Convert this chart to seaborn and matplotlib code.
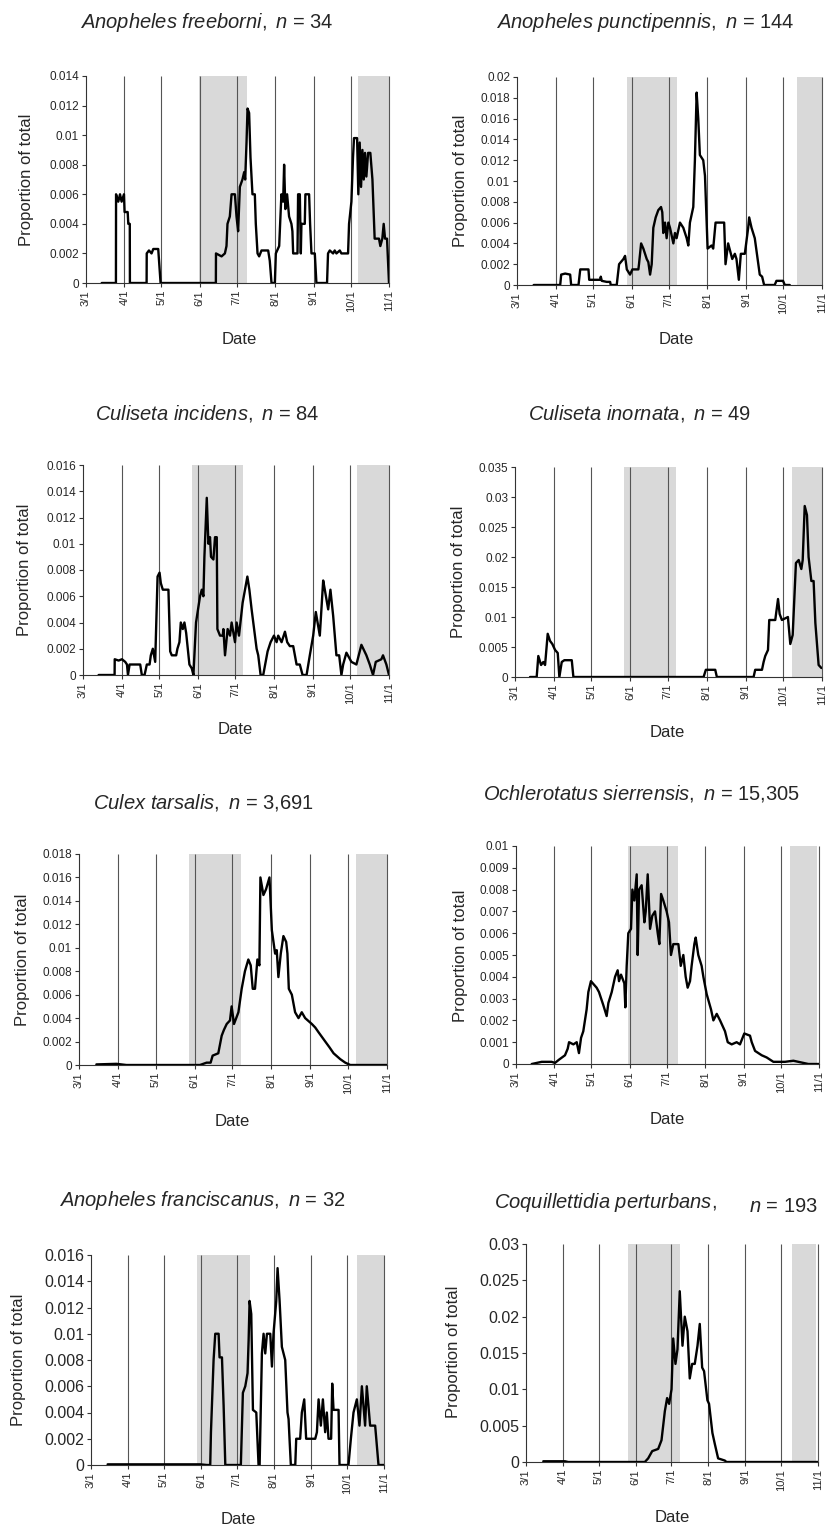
import numpy as np
import pandas as pd
import matplotlib
matplotlib.use("Agg")
import matplotlib.pyplot as plt
import seaborn as sns

# ---------------- data (days since 3/1, proportion of total) ----------------
month_labels = ["3/1", "4/1", "5/1", "6/1", "7/1", "8/1", "9/1", "10/1", "11/1"]
month_days = [0, 31, 61, 92, 122, 153, 184, 214, 245]

freeborni_day = [12.7, 24.2, 24.3, 26.1, 27.5, 28.8, 30.7, 31.2, 33.7, 34.2, 35.4, 35.5, 49.0, 49.1, 50.9, 53.0, 54.4, 58.4, 60.3,
                 105.0, 105.1, 109.6, 112.3, 113.6, 114.4, 116.3, 117.7, 120.4, 121.7, 123.0, 124.4, 126.5, 127.9, 128.7, 129.8,
                 130.6, 131.9, 133.0, 134.6, 136.5, 137.3, 138.7, 140.0, 141.9, 147.3, 148.6, 150.0, 152.7, 153.5, 156.2, 158.0,
                 159.4, 160.2, 161.2, 162.6, 164.2, 166.1, 166.9, 167.5, 171.0, 171.5, 172.9, 173.7, 174.2, 176.9, 177.4, 180.4,
                 181.2, 182.3, 185.0, 186.3, 194.9, 195.7, 197.1, 199.8, 201.1, 202.5, 205.2, 206.5, 211.9, 212.7, 214.6, 215.9,
                 216.7, 219.2, 220.2, 221.3, 222.4, 223.5, 224.6, 225.6, 226.7, 228.1, 229.9, 231.6, 233.4, 236.9, 238.0, 239.6,
                 240.7, 241.8, 243.4, 245.0]
freeborni_val = [0, 0, 0.006, 0.0055, 0.006, 0.0055, 0.006, 0.0048, 0.0048, 0.004, 0.004, 0, 0, 0.002, 0.0022, 0.002, 0.0023, 0.0023, 0,
                 0, 0.002, 0.0018, 0.002, 0.0025, 0.004, 0.0045, 0.006, 0.006, 0.0045, 0.0035, 0.0065, 0.007, 0.0075, 0.007, 0.0095,
                 0.0118, 0.0115, 0.0085, 0.006, 0.006, 0.004, 0.002, 0.0018, 0.0022, 0.0022, 0.0015, 0, 0, 0.002, 0.0025, 0.006,
                 0.0055, 0.008, 0.005, 0.006, 0.0045, 0.004, 0.0035, 0.002, 0.002, 0.006, 0.006, 0.002, 0.004, 0.004, 0.006, 0.006,
                 0.004, 0.002, 0.002, 0, 0, 0.002, 0.0022, 0.002, 0.0022, 0.002, 0.0022, 0.002, 0.002, 0.004, 0.0055, 0.0085,
                 0.0098, 0.0098, 0.006, 0.0095, 0.0065, 0.009, 0.007, 0.0088, 0.0072, 0.0088, 0.0088, 0.007, 0.003, 0.003, 0.0025, 0.003,
                 0.004, 0.003, 0.003, 0]

punctipennis_day = [13.4, 34.7, 35.5, 38.7, 42.7, 43.5, 49.4, 50.8, 57.4, 58.0, 66.8, 67.3, 68.1, 72.1, 74.8, 75.3, 80.1, 82.0, 85.5,
                    86.8, 88.2, 90.8, 92.7, 97.5, 98.0, 99.7, 101.5, 104.2, 105.5, 106.9, 108.2, 109.5, 111.4, 113.5, 115.7, 116.7,
                    117.5, 118.9, 120.2, 121.6, 122.9, 125.6, 126.9, 128.2, 130.9, 133.6, 136.3, 137.6, 138.9, 141.6, 142.9, 144.3,
                    145.6, 146.9, 149.6, 151.0, 153.1, 156.3, 157.6, 159.5, 166.4, 167.5, 169.6, 172.9, 175.0, 176.3, 178.2, 179.8,
                    183.0, 185.7, 186.5, 188.4, 191.0, 195.0, 196.9, 198.5, 207.0, 208.4, 213.7, 215.1, 219.1]
punctipennis_val = [0, 0, 0.001, 0.0011, 0.001, 0, 0, 0.0015, 0.0015, 0.0005, 0.0005, 0.0008, 0.0004, 0.0003, 0.0003, 0, 0, 0.002, 0.0025,
                    0.0028, 0.0015, 0.001, 0.0015, 0.0015, 0.002, 0.004, 0.0035, 0.0025, 0.0022, 0.001, 0.002, 0.0055, 0.0065, 0.0072,
                    0.0075, 0.007, 0.005, 0.006, 0.0045, 0.006, 0.0055, 0.004, 0.005, 0.0045, 0.006, 0.0055, 0.0045, 0.0038, 0.006,
                    0.0075, 0.012, 0.0185, 0.016, 0.0125, 0.012, 0.0105, 0.0035, 0.0038, 0.0035, 0.006, 0.006, 0.002, 0.004, 0.0025,
                    0.003, 0.0025, 0.0005, 0.003, 0.003, 0.0055, 0.0065, 0.0055, 0.0045, 0.001, 0.0008, 0, 0, 0.0004, 0.0004, 0, 0]

incidens_day = [12.5, 25.3, 25.4, 28.5, 31.2, 33.8, 35.2, 36.0, 37.3, 45.8, 47.1, 49.3, 51.1, 53.3, 54.3, 55.9, 57.8, 59.7, 61.3, 62.3,
                63.9, 68.4, 69.8, 71.1, 74.6, 75.6, 77.2, 78.3, 79.9, 81.2, 82.6, 85.2, 87.1, 88.4, 90.5, 93.7, 95.1, 96.4, 97.2,
                99.1, 100.4, 101.7, 102.5, 104.4, 105.7, 107.1, 107.6, 109.7, 111.9, 112.4, 113.7, 115.8, 117.7, 119.0, 121.7,
                123.0, 124.9, 127.8, 129.7, 131.6, 133.2, 135.0, 139.0, 140.3, 142.2, 144.3, 147.8, 150.2, 152.9, 155.0, 156.3,
                159.0, 161.7, 163.5, 165.6, 168.3, 171.0, 173.6, 175.8, 179.0, 181.6, 184.3, 186.4, 189.6, 192.3, 193.6, 196.3,
                198.1, 200.3, 202.9, 205.1, 206.9, 208.3, 210.9, 214.9, 218.9, 222.9, 226.9, 229.6, 232.2, 234.4, 238.9, 240.2,
                242.9, 245.0]
incidens_val = [0, 0, 0.0012, 0.0011, 0.0012, 0.001, 0.0008, 0, 0.0008, 0.0008, 0, 0, 0.0008, 0.0008, 0.0015, 0.002, 0.001, 0.0075, 0.0078,
                0.007, 0.0065, 0.0065, 0.0018, 0.0015, 0.0015, 0.002, 0.0025, 0.004, 0.0035, 0.004, 0.0032, 0.0008, 0.0005, 0, 0.004,
                0.006, 0.0065, 0.006, 0.009, 0.0135, 0.01, 0.0105, 0.009, 0.0088, 0.0105, 0.0105, 0.0035, 0.003, 0.003, 0.0035,
                0.0015, 0.0035, 0.003, 0.004, 0.0025, 0.004, 0.003, 0.0055, 0.0065, 0.0075, 0.0065, 0.005, 0.002, 0.0015, 0, 0,
                0.0018, 0.0025, 0.003, 0.0025, 0.003, 0.0025, 0.0033, 0.0025, 0.0022, 0.0022, 0.0008, 0.0008, 0, 0, 0.0015, 0.003,
                0.0048, 0.003, 0.0072, 0.0065, 0.005, 0.0065, 0.0045, 0.0015, 0.0015, 0, 0.0008, 0.0017, 0.001, 0.0008, 0.0023,
                0.0015, 0.0008, 0, 0.001, 0.0012, 0.0015, 0.0008, 0]

inornata_day = [12.0, 17.3, 18.6, 20.8, 22.6, 24.0, 26.1, 28.0, 29.8, 32.0, 34.1, 35.4, 37.3, 39.4, 45.3, 46.6, 150.5, 152.3, 159.8,
                161.1, 190.4, 191.7, 197.1, 198.4, 199.7, 201.9, 202.9, 207.7, 209.9, 211.2, 213.0, 217.8, 219.7, 221.6, 224.2,
                226.4, 228.5, 229.6, 231.2, 233.0, 234.3, 236.5, 238.3, 239.7, 242.3, 244.5]
inornata_val = [0, 0, 0.0035, 0.002, 0.0025, 0.002, 0.0072, 0.006, 0.0055, 0.0045, 0.004, 0, 0.0025, 0.0028, 0.0028, 0, 0, 0.0012, 0.0012,
                0, 0, 0.0012, 0.0012, 0.0025, 0.0035, 0.0045, 0.0095, 0.0095, 0.013, 0.0105, 0.0095, 0.01, 0.0055, 0.007, 0.019,
                0.0195, 0.018, 0.0195, 0.0285, 0.027, 0.02, 0.016, 0.016, 0.009, 0.002, 0.0015]

tarsalis_day = [13.8, 29.8, 37.7, 96.2, 101.5, 104.7, 106.3, 110.8, 113.5, 115.3, 117.5, 120.1, 121.4, 123.3, 126.8, 129.4, 132.0,
                134.7, 136.6, 138.2, 140.0, 141.9, 143.5, 144.3, 146.7, 148.8, 151.5, 153.4, 156.0, 157.3, 158.6, 160.5, 162.6,
                164.8, 165.8, 166.9, 169.3, 171.9, 174.6, 177.2, 179.9, 185.2, 187.9, 190.5, 195.9, 199.3, 202.5, 207.8, 211.8,
                215.8, 245.0]
tarsalis_val = [0.00005, 0.0001, 0, 0, 0.0002, 0.0002, 0.0008, 0.001, 0.0025, 0.003, 0.0035, 0.0038, 0.005, 0.0035, 0.0045, 0.0065,
                0.008, 0.009, 0.0085, 0.0065, 0.0065, 0.009, 0.0085, 0.016, 0.0145, 0.015, 0.016, 0.0115, 0.0095, 0.0098, 0.0075,
                0.0095, 0.011, 0.0105, 0.0095, 0.0065, 0.006, 0.0045, 0.004, 0.0045, 0.004, 0.0035, 0.0032, 0.0028, 0.002, 0.0015,
                0.001, 0.0005, 0.0002, 0, 0]

sierrensis_day = [12.7, 20.8, 28.8, 31.5, 34.8, 39.6, 41.8, 42.9, 46.4, 49.1, 50.9, 52.6, 54.4, 57.1, 58.5, 60.6, 65.2, 67.1, 70.6,
                  73.3, 74.7, 77.4, 80.1, 82.2, 83.3, 84.9, 87.6, 88.4, 89.5, 90.8, 93.0, 94.1, 95.7, 97.6, 98.4, 99.5, 101.6, 103.8,
                  104.9, 106.5, 108.4, 110.2, 112.4, 114.6, 115.9, 117.3, 119.1, 121.8, 123.7, 125.3, 127.2, 131.3, 133.2, 135.3,
                  137.2, 138.8, 140.7, 142.0, 144.2, 145.3, 147.4, 150.1, 151.5, 154.2, 157.7, 159.6, 162.3, 165.0, 169.0, 171.2,
                  174.4, 178.4, 181.1, 184.6, 189.2, 190.6, 193.3, 198.7, 202.7, 208.1, 217.5, 224.3, 228.3, 236.4, 245.0]
sierrensis_val = [0, 0.0001, 0.0001, 0.00005, 0.0002, 0.0004, 0.0007, 0.001, 0.0009, 0.001, 0.0005, 0.0012, 0.0015, 0.0025, 0.0033,
                  0.0038, 0.0035, 0.0033, 0.0027, 0.0022, 0.0028, 0.0033, 0.004, 0.0043, 0.0038, 0.0041, 0.0037, 0.0026, 0.0045, 0.006,
                  0.0062, 0.008, 0.0075, 0.0087, 0.005, 0.008, 0.0082, 0.0065, 0.007, 0.0087, 0.0062, 0.0068, 0.007, 0.006, 0.0055,
                  0.0078, 0.0075, 0.007, 0.0065, 0.005, 0.0055, 0.0055, 0.0045, 0.005, 0.004, 0.0035, 0.0038, 0.0045, 0.0055, 0.0058,
                  0.005, 0.0045, 0.004, 0.0032, 0.0025, 0.002, 0.0023, 0.002, 0.0015, 0.001, 0.0009, 0.001, 0.0009, 0.0014, 0.0013,
                  0.001, 0.0006, 0.0004, 0.0003, 0.0001, 0.0001, 0.00015, 0.0001, 0, 0]

franciscanus_day = [13.9, 91.4, 96.9, 99.7, 100.3, 102.5, 103.9, 106.7, 107.5, 109.5, 110.9, 112.3, 125.3, 127.0, 129.0, 130.9, 131.8,
                    132.6, 134.0, 135.4, 138.2, 140.1, 141.0, 142.9, 144.3, 145.7, 147.1, 149.9, 151.3, 152.6, 154.9, 156.0, 157.7,
                    159.6, 162.4, 164.3, 165.2, 166.0, 167.1, 170.8, 171.6, 174.9, 176.3, 178.3, 179.9, 187.5, 188.9, 190.3, 192.2,
                    193.9, 195.8, 197.2, 198.6, 200.8, 201.7, 202.8, 207.0, 207.8, 215.3, 217.3, 219.5, 222.3, 224.5, 226.5, 229.2,
                    230.6, 233.4, 237.6, 240.4, 245.0]
franciscanus_val = [0.00005, 0.00005, 0, 0, 0.0025, 0.008, 0.01, 0.01, 0.0082, 0.0082, 0.0045, 0, 0, 0.0055, 0.006, 0.007, 0.0095,
                    0.0125, 0.0115, 0.0042, 0.004, 0, 0, 0.0085, 0.01, 0.0085, 0.01, 0.01, 0.0075, 0.01, 0.0125, 0.015, 0.0125,
                    0.009, 0.008, 0.004, 0.0035, 0.002, 0, 0, 0.002, 0.002, 0.004, 0.005, 0.002, 0.002, 0.0025, 0.005, 0.003,
                    0.005, 0.0025, 0.004, 0.002, 0.002, 0.0062, 0.0042, 0.0042, 0, 0, 0.002, 0.004, 0.005, 0.003, 0.006, 0.003,
                    0.006, 0.003, 0.003, 0, 0]

perturbans_day = [14.5, 32.7, 35.5, 99.7, 102.5, 105.9, 110.9, 113.7, 116.5, 118.4, 120.1, 122.1, 123.5, 125.4, 127.1, 129.0, 131.3,
                  133.2, 135.5, 137.4, 139.4, 141.6, 143.9, 145.8, 147.8, 149.4, 152.2, 153.6, 156.4, 158.4, 161.2, 166.8, 168.2,
                  245.0]
perturbans_val = [0.0001, 0.0001, 0, 0, 0.0005, 0.0015, 0.0018, 0.003, 0.007, 0.0088, 0.008, 0.01, 0.017, 0.0135, 0.0155, 0.0235,
                  0.016, 0.02, 0.018, 0.0115, 0.0135, 0.0135, 0.016, 0.019, 0.013, 0.0125, 0.0085, 0.008, 0.004, 0.0025, 0.0005,
                  0.0002, 0, 0]

species = ["Anopheles freeborni", "Anopheles punctipennis", "Culiseta incidens", "Culiseta inornata",
           "Culex tarsalis", "Ochlerotatus sierrensis", "Anopheles franciscanus", "Coquillettidia perturbans"]
n_labels = ["34", "144", "84", "49", "3,691", "15,305", "32", "193"]
y_max = [0.014, 0.02, 0.016, 0.035, 0.018, 0.01, 0.016, 0.03]
y_step = [0.002, 0.002, 0.002, 0.005, 0.002, 0.001, 0.002, 0.005]
shade_spans = [[(91.3, 129.8), (220.0, 245.0)], [(88.2, 128.2), (225.2, 245.0)],
               [(87.6, 127.8), (219.4, 245.0)], [(87.3, 128.4), (221.0, 245.0)],
               [(87.7, 128.6), (220.6, 245.0)], [(90.8, 131.3), (221.6, 243.0)],
               [(88.6, 132.6), (222.8, 245.0)], [(85.8, 129.0), (223.2, 243.6)]]
series_days = [freeborni_day, punctipennis_day, incidens_day, inornata_day,
               tarsalis_day, sierrensis_day, franciscanus_day, perturbans_day]
series_vals = [freeborni_val, punctipennis_val, incidens_val, inornata_val,
               tarsalis_val, sierrensis_val, franciscanus_val, perturbans_val]

# ---------------- layout (pixels) ----------------
W, H = 830, 1529
axes_px = [(86, 389, 76, 283), (517, 822, 77, 285),
           (83, 389, 465, 675), (515, 822, 467, 677),
           (79, 387, 854, 1065), (516, 819, 846, 1064),
           (91, 384, 1255, 1465), (526, 818, 1244, 1462)]
title_px = [(207, 23), (645, 23), (207, 413), (640, 413), (203, 803), (642, 793), (202, 1200), (605, 1203)]
ylabel_px = [(27, 180), (460, 181), (25, 570), (458, 572), (22, 960), (460, 956), (18, 1360), (453, 1352)]
date_px = [(239, 340), (676, 340), (235, 730), (667, 733), (232, 1122), (667, 1120), (238, 1520), (672, 1518)]

sns.set_theme(style="white")
plt.rcParams["font.family"] = ["Liberation Sans", "DejaVu Sans"]
plt.rcParams["mathtext.fontset"] = "custom"
plt.rcParams["mathtext.it"] = "Liberation Sans:italic"
plt.rcParams["mathtext.rm"] = "Liberation Sans"

fig = plt.figure(figsize=(W / 100, H / 100), dpi=100)
fig.patch.set_facecolor("white")

for i in range(8):
    L, R, T, B = axes_px[i]
    ax = fig.add_axes([L / W, 1 - B / H, (R - L) / W, (B - T) / H])
    ax.set_facecolor("white")
    ymax = y_max[i]
    for (a, b) in shade_spans[i]:
        ax.axvspan(a, b, color="#d9d9d9", lw=0, zorder=0)
    ax.vlines(month_days[1:], 0, ymax, colors="#555555", lw=0.8, zorder=1, clip_on=False)
    df = pd.DataFrame({"day": series_days[i], "val": series_vals[i]})
    sns.lineplot(data=df, x="day", y="val", ax=ax, color="black", linewidth=1.7,
                 estimator=None, sort=False, zorder=3)
    ax.set_xlim(0, 245)
    ax.set_ylim(0, ymax)
    yt = np.round(np.arange(0, ymax + y_step[i] / 2, y_step[i]), 4)
    ax.set_yticks(yt)
    big = i >= 6
    ax.set_yticklabels([f"{v:g}" for v in yt], fontsize=11.5 if big else 8.5)
    ax.set_xticks(month_days)
    ax.set_xticklabels(month_labels, rotation=90, fontsize=8)
    ax.set_xlabel("")
    ax.set_ylabel("")
    for s in ["top", "right"]:
        ax.spines[s].set_visible(False)
    for s in ["left", "bottom"]:
        ax.spines[s].set_color("#333333")
        ax.spines[s].set_linewidth(0.8)
    ax.tick_params(axis="both", direction="out", length=3, width=0.8, color="#333333",
                   left=True, bottom=True, pad=2)
    # texts
    tx, ty = title_px[i]
    if i == 7:
        fig.text(tx / W, 1 - ty / H, r"$\mathit{Coquillettidia\ perturbans,}$", ha="center", va="center", fontsize=14.5)
        fig.text(783 / W, 1 - 1206 / H, r"$\mathit{n}$ = " + n_labels[i], ha="center", va="center", fontsize=14.5)
    else:
        sp = species[i].replace(" ", r"\ ")
        fig.text(tx / W, 1 - ty / H, r"$\mathit{" + sp + r",\ n}$ = " + n_labels[i],
                 ha="center", va="center", fontsize=14.5)
    yx, yy = ylabel_px[i]
    fig.text(yx / W, 1 - yy / H, "Proportion of total", rotation=90, ha="center", va="center", fontsize=12)
    dx, dy = date_px[i]
    fig.text(dx / W, 1 - dy / H, "Date", ha="center", va="center", fontsize=12)

fig.savefig("out.png", dpi=100, facecolor="white")
